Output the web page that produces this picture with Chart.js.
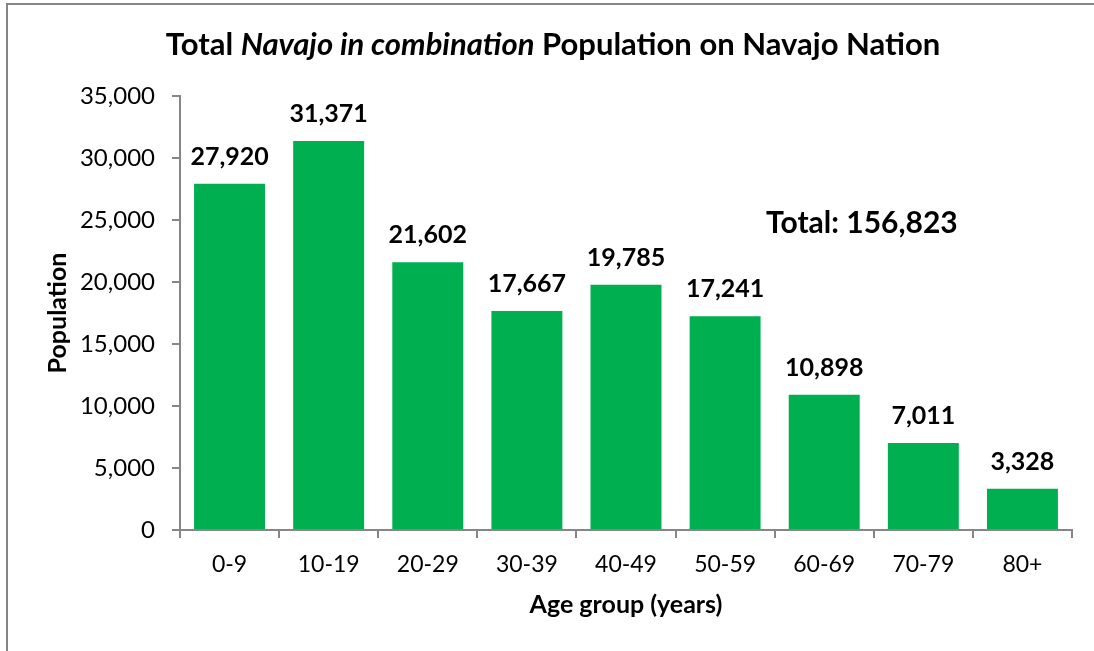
<!DOCTYPE html>
<html>
<head>
<meta charset="utf-8">
<script src="https://cdn.jsdelivr.net/npm/chart.js"></script>
<style>
  body { margin: 0; background: #fff; }
  canvas { display: block; }
</style>
</head>
<body>
<canvas id="myChart" width="1094" height="651"></canvas>
<script>
// Daten
var ageGroups = ["0-9", "10-19", "20-29", "30-39", "40-49", "50-59", "60-69", "70-79", "80+"];
var population = [27920, 31371, 21602, 17667, 19785, 17241, 10898, 7011, 3328];
var yTicks = [0, 5000, 10000, 15000, 20000, 25000, 30000, 35000];
var titleParts = [
    { text: "Total ", italic: false },
    { text: "Navajo in combination", italic: true },
    { text: " Population on Navajo Nation", italic: false }
];
var totalText = "Total: 156,823";

var fontFam = "Lato, 'Open Sans', sans-serif";
var grau = "#868686";

function fmt(v) {
    return v.toLocaleString("en-US");
}

// Rahmen + Titel
var deko = {
    id: "deko",
    beforeDraw: function (chart) {
        var ctx = chart.ctx;
        ctx.save();
        ctx.fillStyle = "#fff";
        ctx.fillRect(0, 0, chart.width, chart.height);
        ctx.strokeStyle = grau;
        ctx.lineWidth = 2;
        ctx.beginPath();
        ctx.moveTo(7, chart.height + 5);
        ctx.lineTo(7, 4);
        ctx.lineTo(chart.width + 5, 4);
        ctx.stroke();
        ctx.restore();
    },
    afterDraw: function (chart) {
        var ctx = chart.ctx;
        ctx.save();
        ctx.fillStyle = "#000";
        ctx.textBaseline = "middle";
        ctx.textAlign = "left";
        var total = 0;
        titleParts.forEach(p => {
            ctx.font = (p.italic ? "italic " : "") + "bold 31px " + fontFam;
            total += ctx.measureText(p.text).width;
        });
        var x = 553 - total / 2;
        titleParts.forEach(p => {
            ctx.font = (p.italic ? "italic " : "") + "bold 31px " + fontFam;
            ctx.fillText(p.text, x, 45);
            x += ctx.measureText(p.text).width;
        });
        // Total-Beschriftung
        var xs = chart.scales.x, ys = chart.scales.y;
        ctx.font = "bold 30px " + fontFam;
        ctx.textAlign = "center";
        ctx.fillText(totalText, xs.getPixelForValue(6.38), ys.getPixelForValue(24760));
        ctx.restore();
    },
    afterDatasetsDraw: function (chart) {
        var ctx = chart.ctx;
        ctx.save();
        ctx.fillStyle = "#000";
        ctx.font = "bold 25px " + fontFam;
        ctx.textAlign = "center";
        ctx.textBaseline = "middle";
        chart.getDatasetMeta(0).data.forEach((bar, i) => {
            ctx.fillText(fmt(population[i]), bar.x, bar.y - 27);
        });
        ctx.restore();
    }
};

var myChart = new Chart(document.getElementById("myChart"), {
    type: "bar",
    data: {
        labels: ageGroups,
        datasets: [{
            label: "Population",
            data: population,
            backgroundColor: "#00B050",
            borderWidth: 0,
            barPercentage: 0.716,
            categoryPercentage: 1
        }]
    },
    options: {
        responsive: false,
        animation: false,
        layout: {
            padding: { top: 96, right: 22, left: 0, bottom: 0 }
        },
        plugins: {
            legend: { display: false },
            tooltip: { enabled: false }
        },
        scales: {
            x: {
                afterFit: function (s) { s.height = 121; },
                grid: {
                    drawOnChartArea: false,
                    drawTicks: true,
                    tickLength: 8,
                    color: grau,
                    lineWidth: 2,
                    offset: true
                },
                border: { color: grau, width: 2 },
                ticks: {
                    color: "#000",
                    padding: 13,
                    font: { family: fontFam, size: 23 }
                },
                title: {
                    display: true,
                    text: "Age group (years)",
                    color: "#000",
                    font: { family: fontFam, size: 25, weight: "bold" },
                    padding: { top: 0, bottom: 31 }
                }
            },
            y: {
                min: 0,
                max: 35000,
                afterFit: function (s) { s.width = 180; },
                afterBuildTicks: function (s) {
                    s.ticks = yTicks.map(v => ({ value: v }));
                },
                grid: {
                    drawOnChartArea: false,
                    drawTicks: true,
                    tickLength: 8,
                    color: grau,
                    lineWidth: 2
                },
                border: { color: grau, width: 2 },
                ticks: {
                    color: "#000",
                    padding: 17,
                    font: { family: fontFam, size: 24 },
                    callback: function (v) { return fmt(v); }
                },
                title: {
                    display: true,
                    text: "Population",
                    color: "#000",
                    font: { family: fontFam, size: 25, weight: "bold" },
                    padding: { top: 43, bottom: 0 }
                }
            }
        }
    },
    plugins: [deko]
});
</script>
</body>
</html>
